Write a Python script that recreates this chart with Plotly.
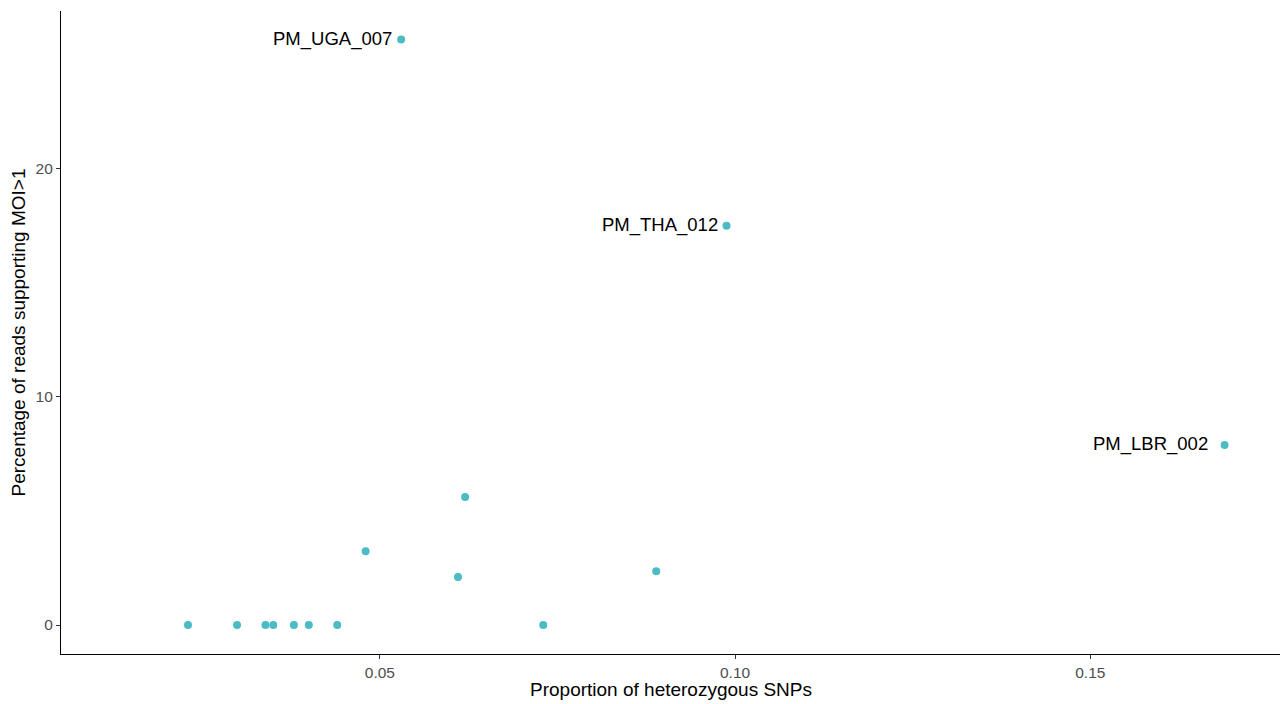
import plotly.graph_objects as go

# Data
het_prop = [0.0230, 0.0299, 0.0339, 0.0350, 0.0379, 0.0400, 0.0440, 0.0480,
            0.0530, 0.0610, 0.0620, 0.0730, 0.0889, 0.0988, 0.1689]
moi_pct = [0.0, 0.0, 0.0, 0.0, 0.0, 0.0, 0.0, 3.23,
           25.64, 2.10, 5.61, 0.0, 2.35, 17.49, 7.88]
sample_labels = ["", "", "", "", "", "", "", "",
                 "PM_UGA_007", "", "", "", "", "PM_THA_012", "PM_LBR_002"]

x_ticks = [0.05, 0.10, 0.15]
x_tick_text = ["0.05", "0.10", "0.15"]
y_ticks = [0, 10, 20]
y_tick_text = ["0", "10", "20"]

x_title = "Proportion of heterozygous SNPs"
y_title = "Percentage of reads supporting MOI>1"

FONT = "Liberation Sans, Arial, sans-serif"
label_xshift = {"PM_LBR_002": -15}

fig = go.Figure()
fig.add_trace(go.Scatter(
    x=het_prop, y=moi_pct, mode="markers",
    marker=dict(size=8, color="#4CBCC4", line=dict(width=0)),
    showlegend=False, hoverinfo="x+y",
))

for xv, yv, lab in zip(het_prop, moi_pct, sample_labels):
    if lab:
        fig.add_annotation(
            x=xv, y=yv, text=lab, showarrow=False,
            xanchor="right", yanchor="middle",
            xshift=label_xshift.get(lab, -7), yshift=1,
            font=dict(family=FONT, size=18.5, color="#000000"),
        )

# axis titles
fig.add_annotation(
    xref="paper", yref="paper", x=0.5, y=0, text=x_title, showarrow=False,
    xanchor="center", yanchor="middle", yshift=-35,
    font=dict(family=FONT, size=19, color="#000000"),
)
fig.add_annotation(
    xref="paper", yref="paper", x=0, y=0.5, text=y_title, showarrow=False,
    xanchor="center", yanchor="middle", xshift=-43, textangle=-90,
    font=dict(family=FONT, size=19, color="#000000"),
)

fig.update_layout(
    width=1282, height=704,
    margin=dict(l=61, r=2, t=11, b=50, autoexpand=False),
    paper_bgcolor="white", plot_bgcolor="white",
    font=dict(family=FONT),
)
fig.update_xaxes(
    range=[0.00512, 0.1767], tickvals=x_ticks, ticktext=x_tick_text,
    showgrid=False, zeroline=False, automargin=False,
    showline=True, linecolor="#000000", linewidth=1.2,
    ticks="outside", ticklen=4, tickcolor="#333333", tickwidth=1.1,
    tickfont=dict(family=FONT, size=15.5, color="#4D4D4D"),
)
fig.update_yaxes(
    range=[-1.27, 26.89], tickvals=y_ticks, ticktext=y_tick_text,
    showgrid=False, zeroline=False, automargin=False,
    showline=True, linecolor="#000000", linewidth=1.2,
    ticks="outside", ticklen=4, tickcolor="#333333", tickwidth=1.1,
    tickfont=dict(family=FONT, size=15.5, color="#4D4D4D"),
)

# remove the default page margin so the figure fills the window exactly
fig.write_html(
    "out.html",
    config={"displayModeBar": False},
    post_script="document.body.style.margin='0';document.body.style.overflow='hidden';",
)
